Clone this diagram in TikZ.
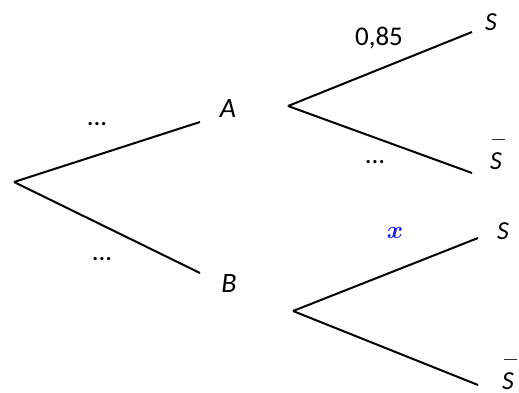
\documentclass[tikz,border=0pt]{standalone}
\usepackage{fontspec}
\setmainfont{Carlito}
\usepackage{tikz}
\usetikzlibrary{positioning}
\definecolor{ink}{HTML}{000000}
\definecolor{prob}{HTML}{1C1CF0}
\definecolor{barc}{HTML}{333333}
\tikzset{
  every node/.style={text=ink,inner sep=0pt},
  branch/.style={draw=ink,line width=2pt},
  event/.style={font=\fontsize{26}{30}\selectfont\itshape,anchor=base},
  weight/.style={font=\fontsize{27}{30}\selectfont,anchor=base},
  unknown/.style={font=\fontsize{28}{30}\selectfont\boldmath,anchor=base,text=prob},
}
\newcommand{\nonS}{\rlap{\kern1.5pt\textcolor{barc}{\raisebox{29pt}{\rule{13pt}{1.2pt}}}}S}

\begin{document}
\begin{tikzpicture}[x=1pt,y=1pt]
\useasboundingbox (0,0) rectangle (519,392);

% first level
\coordinate (root) at (14,210);
\coordinate (endA) at (200,270);
\coordinate (endB) at (200,119);
\node[event,font=\fontsize{28}{30}\selectfont\itshape] (A) at (228,275) {A};
\node[event,font=\fontsize{28}{30}\selectfont\itshape] (B) at (229,100) {B};
\draw[branch] (root) -- (endA);
\draw[branch] (root) -- (endB);
\node[weight] (pA) at (97,267) {...};
\node[weight] (pB) at (102,132) {...};

% after A
\coordinate (startA) at (288,286);
\coordinate (endAS) at (472,360);
\coordinate (endAnS) at (472,219);
\node[event] (AS) at (491,362) {S};
\node[event] (AnS) at (496,223) {\nonS};
\draw[branch] (startA) -- (endAS);
\draw[branch] (startA) -- (endAnS);
\node[weight] (pAS) at (379,347) {0,85};
\node[weight] (pAnS) at (375,229) {...};

% after B
\coordinate (startB) at (293,81);
\coordinate (endBS) at (478,154);
\coordinate (endBnS) at (478,7);
\node[event] (BS) at (503,153) {S};
\node[event] (BnS) at (508,3) {\nonS};
\draw[branch] (startB) -- (endBS);
\draw[branch] (startB) -- (endBnS);
\node[unknown] (pBS) at (395,154) {$x$};

\end{tikzpicture}
\end{document}
